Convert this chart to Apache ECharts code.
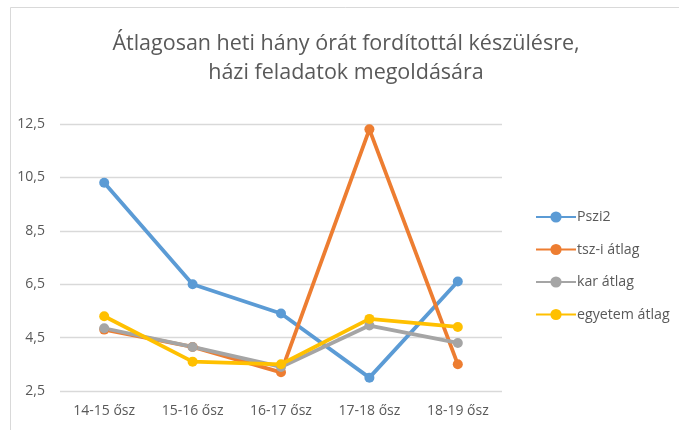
<!DOCTYPE html>
<html>
<head>
<meta charset="utf-8">
<script src="https://cdn.jsdelivr.net/npm/echarts@6/dist/echarts.min.js"></script>
<style>
  html, body { margin: 0; padding: 0; background: #fff; }
  #chart { width: 679px; height: 430px; }
</style>
</head>
<body>
<div id="chart"></div>
<script>
// Semesters shown on the category axis
const categories = ['14-15 ősz', '15-16 ősz', '16-17 ősz', '17-18 ősz', '18-19 ősz'];

// Weekly hours spent on preparation / homework
const pszi2 = [10.3, 6.5, 5.4, 3.0, 6.6];
const tszAtlag = [4.8, 4.15, 3.2, 12.3, 3.5];
const karAtlag = [4.85, 4.15, 3.4, 4.95, 4.3];
const egyetemAtlag = [5.3, 3.6, 3.5, 5.2, 4.9];

const seriesNames = ['Pszi2', 'tsz-i átlag', 'kar átlag', 'egyetem átlag'];
const seriesColors = ['#5b9bd5', '#ed7d31', '#a5a5a5', '#ffc000'];

const textColor = '#595959';
const fontFamily = '"Open Sans", "Noto Sans", sans-serif';

const chart = echarts.init(document.getElementById('chart'), null, { renderer: 'canvas' });

function lineSeries(name, data, color) {
  return {
    name: name,
    type: 'line',
    data: data,
    symbol: 'circle',
    symbolSize: 10,
    lineStyle: { width: 3.8, color: color },
    itemStyle: { color: color },
    emphasis: { disabled: true }
  };
}

chart.setOption({
  animation: false,
  backgroundColor: '#fff',
  title: {
    text: 'Átlagosan heti hány órát fordítottál készülésre,\nházi feladatok megoldására',
    left: 341,
    textAlign: 'center',
    top: 24,
    textStyle: {
      color: textColor,
      fontFamily: fontFamily,
      fontSize: 21.5,
      fontWeight: 'normal',
      lineHeight: 29
    }
  },
  legend: {
    orient: 'vertical',
    left: 530,
    top: 205,
    itemWidth: 40,
    itemHeight: 14,
    itemGap: 18.5,
    textStyle: { color: textColor, fontFamily: fontFamily, fontSize: 14.2, padding: [0, 0, 0, -4] },
    data: seriesNames
  },
  grid: { left: 60, right: 177, top: 124, bottom: 39, containLabel: false },
  xAxis: {
    type: 'category',
    data: categories,
    boundaryGap: true,
    axisLine: { show: false },
    axisTick: { show: false },
    axisLabel: { color: textColor, fontFamily: fontFamily, fontSize: 14, margin: 13 }
  },
  yAxis: {
    type: 'value',
    min: 2.5,
    max: 12.5,
    interval: 2,
    axisLine: { show: false },
    axisTick: { show: false },
    splitLine: { lineStyle: { color: '#d9d9d9', width: 1.3 } },
    axisLabel: {
      color: textColor,
      fontFamily: fontFamily,
      fontSize: 14,
      margin: 15,
      formatter: v => v.toFixed(1).replace('.', ',')
    }
  },
  graphic: [{
    type: 'rect',
    shape: { x: 10.5, y: 7.5, width: 700, height: 450 },
    style: { fill: 'none', stroke: '#d9d9d9', lineWidth: 1 },
    silent: true
  }],
  series: [
    lineSeries(seriesNames[0], pszi2, seriesColors[0]),
    lineSeries(seriesNames[1], tszAtlag, seriesColors[1]),
    lineSeries(seriesNames[2], karAtlag, seriesColors[2]),
    lineSeries(seriesNames[3], egyetemAtlag, seriesColors[3])
  ]
});
</script>
</body>
</html>
